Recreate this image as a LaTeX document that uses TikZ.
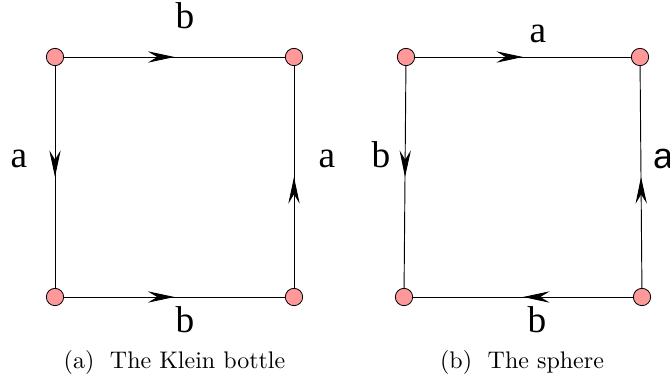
\documentclass[tikz,border=0pt]{standalone}
\usepackage{fontspec}
\newfontfamily\lblfont{Liberation Serif}
\newfontfamily\lblsans{Liberation Sans}
\usetikzlibrary{arrows.meta,decorations.markings}
\definecolor{dotpink}{RGB}{255,153,153}
\tikzset{
  vtx/.style={circle,draw=black,line width=0.6pt,fill=dotpink,minimum size=13pt,inner sep=0pt},
  edgeline/.style={line width=0.7pt,
    decoration={markings,mark=at position 0.5 with {\arrow{Stealth[length=20pt,width=8.5pt,inset=7pt]}}},
    postaction={decorate}},
  lbl/.style={font=\fontsize{28}{30}\lblfont,anchor=base,inner sep=0pt},
  captext/.style={font=\fontsize{10}{12}\selectfont,anchor=base,inner sep=0pt}
}
\begin{document}
\begin{tikzpicture}[x=0.75pt,y=-0.75pt]
\useasboundingbox (0,0) rectangle (670,379);
\clip (0,0) rectangle (670,379);
% left square
\node[vtx] (ltl) at (55,57) {};
\node[vtx] (ltr) at (294,57) {};
\node[vtx] (lbl) at (55,297) {};
\node[vtx] (lbr) at (294,297) {};
\draw[edgeline] (ltl) -- (ltr);
\draw[edgeline] (ltl) -- (lbl);
\draw[edgeline] (lbl) -- (lbr);
\draw[edgeline] (lbr) -- (ltr);
% right square
\node[vtx] (rtl) at (406,57) {};
\node[vtx] (rtr) at (640,57) {};
\node[vtx] (rbl) at (404,297) {};
\node[vtx] (rbr) at (642,297) {};
\draw[edgeline] (rtl) -- (rtr);
\draw[edgeline] (rtl) -- (rbl);
\draw[edgeline] (rbr) -- (rtr);
\draw[edgeline] (rbr) -- (rbl);
% labels
\node[lbl] (t1) at (185,28) {b};
\node[lbl] (t2) at (19,167) {a};
\node[lbl] (t3) at (327,167) {a};
\node[lbl] (t4) at (185,332) {b};
\node[lbl] (t5) at (538,42) {a};
\node[lbl] (t6) at (381,167) {b};
\node[lbl,font=\fontsize{27}{30}\lblsans] (t7) at (663,168) {a};
\node[lbl] (t8) at (537,332) {b};
% captions
\node[captext] (c1) at (174.5,368) {\scalebox{1.8}{(a)\hspace{6.5pt}The Klein bottle}};
\node[captext] (c2) at (522,368) {\scalebox{1.8}{(b)\hspace{6.5pt}The sphere}};
\end{tikzpicture}
\end{document}
